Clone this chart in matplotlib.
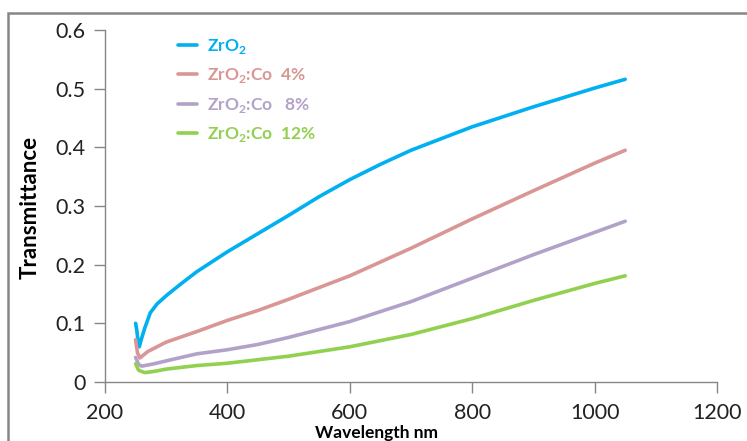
import matplotlib
matplotlib.use('Agg')
import matplotlib.pyplot as plt
from matplotlib.patches import Rectangle

plt.rcParams['font.family'] = ['Lato', 'DejaVu Sans']
plt.rcParams['mathtext.fontset'] = 'custom'
plt.rcParams['mathtext.rm'] = 'Lato:bold'
plt.rcParams['mathtext.bf'] = 'Lato:bold'

# wavelength (nm) and transmittance
wl_zro2 = [250, 252, 254, 256, 260, 265, 274, 285, 301, 325, 350, 400, 450, 500, 550, 600, 650, 700, 750, 800, 850, 900, 950, 1000, 1050]
t_zro2 = [0.100, 0.088, 0.070, 0.060, 0.075, 0.092, 0.118, 0.133, 0.148, 0.168, 0.188, 0.222, 0.253, 0.284, 0.316, 0.345, 0.371, 0.395, 0.415, 0.435, 0.452, 0.469, 0.485, 0.501, 0.516]

wl_co4 = [250, 253, 257, 270, 300, 350, 400, 450, 500, 600, 700, 800, 900, 1000, 1050]
t_co4 = [0.072, 0.050, 0.041, 0.052, 0.068, 0.086, 0.105, 0.122, 0.141, 0.181, 0.228, 0.278, 0.326, 0.373, 0.395]

wl_co8 = [250, 255, 260, 280, 300, 350, 400, 450, 500, 600, 700, 800, 900, 1000, 1050]
t_co8 = [0.042, 0.030, 0.027, 0.031, 0.036, 0.048, 0.055, 0.064, 0.076, 0.103, 0.137, 0.177, 0.217, 0.255, 0.274]

wl_co12 = [250, 255, 265, 280, 300, 350, 400, 500, 600, 700, 800, 900, 1000, 1050]
t_co12 = [0.031, 0.020, 0.016, 0.018, 0.022, 0.028, 0.032, 0.044, 0.060, 0.081, 0.108, 0.139, 0.168, 0.181]

labels = [r'ZrO$_2$', r'ZrO$_2$:Co  4%', r'ZrO$_2$:Co   8%', r'ZrO$_2$:Co  12%']
colors = ['#00B0F0', '#D99694', '#B3A2C7', '#92D050']

fig = plt.figure(figsize=(7.47, 4.41), dpi=100)
ax = fig.add_axes([105/747, 1 - 382/441, 612/747, 352/441])

series = [(wl_zro2, t_zro2), (wl_co4, t_co4), (wl_co8, t_co8), (wl_co12, t_co12)]
for (x, y), lab, c in zip(series, labels, colors):
    ax.plot(x, y, color=c, lw=2.6, label=lab, solid_capstyle='round', solid_joinstyle='round')

ax.set_xlim(200, 1200)
ax.set_ylim(0, 0.6)
ax.set_xticks([200, 400, 600, 800, 1000, 1200])
ax.set_yticks([0, 0.1, 0.2, 0.3, 0.4, 0.5, 0.6])
ax.set_yticklabels(['0', '0.1', '0.2', '0.3', '0.4', '0.5', '0.6'])
for s in ['top', 'right']:
    ax.spines[s].set_visible(False)
for s in ['left', 'bottom']:
    ax.spines[s].set_color('#868686')
    ax.spines[s].set_linewidth(1.0)
ax.tick_params(colors='#868686', labelcolor='#222222', labelsize=15.5, length=8, width=1.0, direction='out')
ax.tick_params(axis='x', pad=7)
ax.tick_params(axis='y', pad=6)

leg = ax.legend(loc='upper left', bbox_to_anchor=(0.094, 1.025), frameon=False,
                handlelength=1.1, handletextpad=0.55, labelspacing=0.6,
                prop={'weight': 'bold', 'size': 12.5})
for t, c in zip(leg.get_texts(), colors):
    t.set_color(c)

fig.text(30/747, 1 - 207/441, 'Transmittance', rotation=90, ha='center', va='center',
         fontsize=16, fontweight='bold')
fig.text(376/747, 1 - 433/441, 'Wavelength nm', ha='center', va='center',
         fontsize=12.5, fontweight='bold')

fig.patches.append(Rectangle((8/747, -0.1), 1.2, 1 - 13/441 + 0.1, transform=fig.transFigure,
                             fill=False, edgecolor='#868686', lw=1.8))

fig.savefig('out.png', dpi=100)
